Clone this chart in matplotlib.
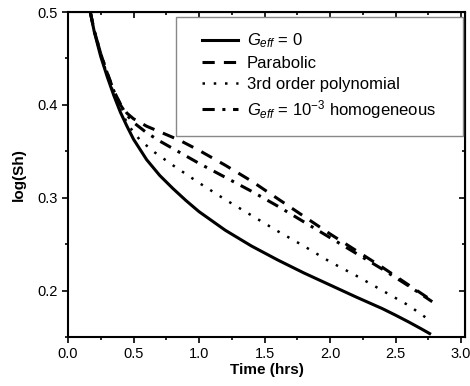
import numpy as np
import matplotlib
matplotlib.use('Agg')
import matplotlib.pyplot as plt
from matplotlib.ticker import MultipleLocator
from matplotlib.patches import Rectangle

plt.rcParams['font.family'] = ['Liberation Sans', 'DejaVu Sans']
plt.rcParams['mathtext.fontset'] = 'custom'
plt.rcParams['mathtext.rm'] = 'Liberation Sans'
plt.rcParams['mathtext.it'] = 'Liberation Sans:italic'

# G_eff = 0
x_solid = [0.17, 0.2, 0.25, 0.3, 0.35, 0.4, 0.45, 0.5, 0.6, 0.7, 0.8, 0.9, 1.0, 1.2,
           1.4, 1.6, 1.8, 2.0, 2.2, 2.4, 2.5, 2.6, 2.7, 2.76]
y_solid = [0.500, 0.479, 0.452, 0.430, 0.410, 0.392, 0.377, 0.363, 0.341, 0.324, 0.310, 0.297, 0.285, 0.265,
           0.248, 0.233, 0.219, 0.206, 0.193, 0.1805, 0.1735, 0.1662, 0.1585, 0.1537]

# parabolic
x_para = [0.17, 0.2, 0.25, 0.3, 0.35, 0.4, 0.45, 0.5, 0.6, 0.7, 0.85, 1.0, 1.2, 1.4, 1.6,
          1.8, 2.0, 2.2, 2.4, 2.6, 2.78]
y_para = [0.500, 0.480, 0.455, 0.434, 0.415, 0.401, 0.391, 0.385, 0.377, 0.371, 0.362, 0.351, 0.335, 0.318,
          0.299, 0.280, 0.261, 0.243, 0.225, 0.206, 0.189]

# 3rd order polynomial
x_poly = [0.17, 0.2, 0.25, 0.3, 0.35, 0.4, 0.46, 0.55, 0.66, 0.8, 1.0, 1.2, 1.4, 1.6,
          1.8, 2.0, 2.2, 2.4, 2.6, 2.78]
y_poly = [0.500, 0.479, 0.454, 0.432, 0.412, 0.395, 0.378, 0.362, 0.349, 0.335, 0.316, 0.298, 0.281, 0.264,
          0.248, 0.231, 0.216, 0.200, 0.184, 0.166]

# G_eff = 1e-3 homogeneous
x_homo = [0.17, 0.2, 0.25, 0.3, 0.35, 0.4, 0.45, 0.5, 0.6, 0.7, 0.8, 0.9, 1.0, 1.2, 1.4,
          1.6, 1.8, 2.0, 2.2, 2.4, 2.6, 2.78]
y_homo = [0.500, 0.480, 0.455, 0.434, 0.415, 0.400, 0.389, 0.381, 0.370, 0.361, 0.353, 0.345, 0.337, 0.322,
          0.307, 0.291, 0.274, 0.257, 0.240, 0.223, 0.205, 0.188]

fig = plt.figure(figsize=(4.70, 3.86), dpi=100)
ax = fig.add_axes([68/470, 1-337/386, 397/470, 325/386])

ax.plot(x_solid, y_solid, color='black', lw=2.2, ls='-', label=r'$G_{eff}$ = 0')
ax.plot(x_para, y_para, color='black', lw=2.2, ls=(0, (4, 3)), label='Parabolic')
ax.plot(x_poly, y_poly, color='black', lw=1.8, ls=(0, (1, 3.5)), label='3rd order polynomial')
ax.plot(x_homo, y_homo, color='black', lw=2.2, ls=(0, (4, 2.5, 1, 2.5)),
        label=r'$G_{eff}$ = 10$^{-3}$ homogeneous')

ax.set_xlim(0, 3.03)
ax.set_ylim(0.15, 0.5)
ax.set_xticks([0.0, 0.5, 1.0, 1.5, 2.0, 2.5, 3.0])
ax.set_xticklabels(['0.0', '0.5', '1.0', '1.5', '2.0', '2.5', '3.0'])
ax.set_yticks([0.2, 0.3, 0.4, 0.5])
ax.set_yticklabels(['0.2', '0.3', '0.4', '0.5'])
ax.xaxis.set_minor_locator(MultipleLocator(0.25))
ax.yaxis.set_minor_locator(MultipleLocator(0.05))

for s in ax.spines.values():
    s.set_linewidth(1.5)
ax.tick_params(which='both', direction='out', width=1.2, labelsize=10.5, top=False, right=False)
ax.tick_params(which='major', length=4)
ax.tick_params(which='minor', length=2.5)

# inward ticks on top and right
axt = ax.secondary_xaxis('top')
axt.set_xticks([0.5, 1.0, 1.5, 2.0, 2.5, 3.0])
axt.xaxis.set_minor_locator(MultipleLocator(0.25))
axt.tick_params(which='both', direction='in', width=1.2, labeltop=False)
axt.tick_params(which='major', length=4)
axt.tick_params(which='minor', length=2.5)
axr = ax.secondary_yaxis('right')
axr.set_yticks([0.2, 0.3, 0.4])
axr.yaxis.set_minor_locator(MultipleLocator(0.05))
axr.tick_params(which='both', direction='in', width=1.2, labelright=False)
axr.tick_params(which='major', length=4)
axr.tick_params(which='minor', length=2.5)

ax.set_xlabel('Time (hrs)', fontsize=11, fontweight='bold', labelpad=1)
ax.set_ylabel('log(Sh)', fontsize=11, fontweight='bold', labelpad=8)

# legend box drawn separately
ax.add_patch(Rectangle((0.272, 0.618), 0.723, 0.367, transform=ax.transAxes,
                       facecolor='white', edgecolor='#888888', lw=1.0, zorder=4))
leg = ax.legend(loc='upper left', bbox_to_anchor=(0.3375, 0.94), borderaxespad=0,
                borderpad=0, frameon=False, fontsize=12, handlelength=2.15,
                handletextpad=0.55, labelspacing=0.35)
leg.set_zorder(5)

fig.savefig('out.png', dpi=100)
